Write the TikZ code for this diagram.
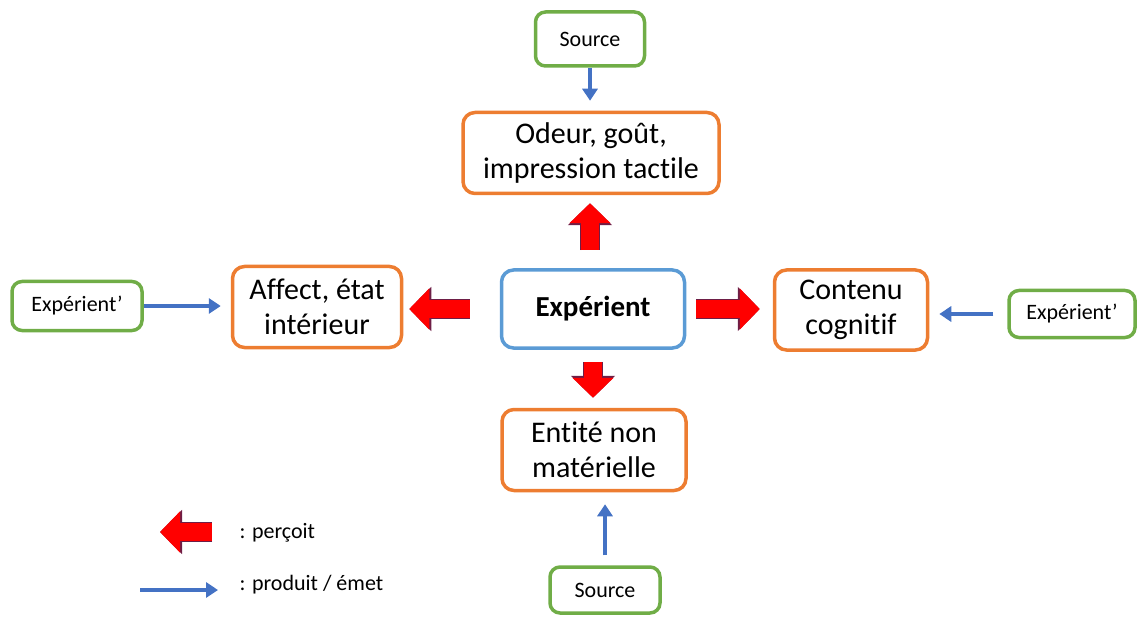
\documentclass[tikz,border=0pt]{standalone}
\usepackage{fontspec}
\setmainfont{Carlito}[Ligatures=NoCommon]
\usetikzlibrary{arrows.meta}

\definecolor{boxorange}{HTML}{ED7D31}
\definecolor{boxgreen}{HTML}{70AD47}
\definecolor{boxblue}{HTML}{5B9BD5}
\definecolor{arrowblue}{HTML}{4472C4}
\definecolor{arrowred}{HTML}{FF0000}
\definecolor{redline}{RGB}{110,30,70}

\begin{document}
\begin{tikzpicture}[x=1pt,y=-1pt,
  sense node/.style={draw=boxorange,line width=3.5pt,rounded corners=12pt,align=center,
    font=\fontsize{30}{35}\selectfont,inner sep=2pt},
  source node/.style={draw=boxgreen,line width=3.5pt,rounded corners=10pt,align=center,
    font=\fontsize{22}{26}\selectfont,inner sep=2pt},
  center node/.style={draw=boxblue,line width=3.5pt,rounded corners=12pt,align=center,
    font=\fontsize{29}{34}\selectfont\bfseries,inner sep=2pt},
  legend text/.style={anchor=west,font=\fontsize{22}{26}\selectfont},
  percoit/.style={draw=arrowred,line width=18pt,-{Triangle[width=40pt,length=20pt]},
    preaction={draw=redline,line width=20pt,-{Triangle[width=43pt,length=22pt]}}},
  emet/.style={draw=arrowblue,line width=3.5pt,-{Triangle[width=15pt,length=12pt]}}]
  \useasboundingbox (0,0) rectangle (1139,617);

  % boxes
  \node[center node,minimum width=183pt,minimum height=78pt] (exp) at (593,309) {Expérient};
  \node[sense node,minimum width=256pt,minimum height=81pt] (odeur) at (591,153) {Odeur, goût,\\impression tactile};
  \node[sense node,minimum width=169pt,minimum height=81pt] (affect) at (317,307) {Affect, état\\intérieur};
  \node[sense node,minimum width=153pt,minimum height=80pt] (contenu) at (851,310) {Contenu\\cognitif};
  \node[sense node,minimum width=184pt,minimum height=81pt] (entite) at (594,450) {Entité non\\matérielle};

  \node[source node,minimum width=109pt,minimum height=54pt] (src1) at (590,39) {Source};
  \node[source node,minimum width=110pt,minimum height=46pt] (src2) at (605,590) {Source};
  \node[source node,minimum width=130pt,minimum height=49pt] (expL) at (77,306) {Expérient’};
  \node[source node,minimum width=126pt,minimum height=47pt] (expR) at (1072,314) {Expérient’};

  % percoit
  \draw[percoit,shorten <=30pt,shorten >=6pt] (exp.west) -- (exp.west -| affect.east);
  \draw[percoit,shorten <=18pt,shorten >=8pt] ([xshift=-3pt]exp.north) -- ([xshift=-3pt]exp.north |- odeur.south);
  \draw[percoit,shorten <=10pt,shorten >=13pt] (exp.east) -- (exp.east -| contenu.west);
  \draw[percoit,shorten <=12pt,shorten >=10pt] (exp.south) -- (exp.south |- entite.north);

  % produit / emet
  \draw[emet,shorten >=10pt] (src1.south) -- (src1.south |- odeur.north);
  \draw[emet,shorten >=10pt] (expL.east) -- (expL.east -| affect.west);
  \draw[emet,shorten <=14pt,shorten >=10pt] (expR.west) -- (expR.west -| contenu.east);
  \draw[emet,shorten <=10pt,shorten >=12pt] (src2.north) -- (src2.north |- entite.south);

  % legend
  \coordinate (leg1a) at (212,532);
  \coordinate (leg1b) at (160,532);
  \coordinate (leg2a) at (140,590);
  \coordinate (leg2b) at (218,590);
  \draw[percoit] (leg1a) -- (leg1b);
  \draw[emet] (leg2a) -- (leg2b);
  \node[legend text] (txt1) at (236,533) {: perçoit};
  \node[legend text] (txt2) at (236,585) {: produit / émet};
\end{tikzpicture}
\end{document}
